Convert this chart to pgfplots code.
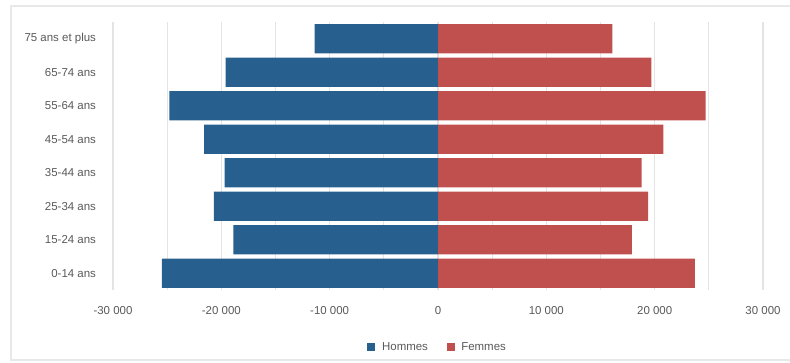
\documentclass[border=0pt]{standalone}
\usepackage{pgfplots}
\pgfplotsset{compat=1.18}
\usepackage{fontspec}
\setmainfont{Liberation Sans}
\definecolor{hblue}{HTML}{27608F}
\definecolor{fred}{HTML}{C0504D}
\definecolor{txt}{HTML}{595959}
\definecolor{gridc}{HTML}{E4E4E4}
\definecolor{framec}{HTML}{E8E8E8}
\pgfplotstableread{
y hommes femmes
0 -25500 23700
1 -18900 17900
2 -20700 19400
3 -19700 18800
4 -21600 20800
5 -24800 24700
6 -19600 19700
7 -11400 16100
}\pyramid
\begin{document}
\begin{tikzpicture}
\useasboundingbox (0,0) rectangle (592.5pt,271.5pt);
\draw[framec, line width=0.8pt] (8.25pt,1.5pt) rectangle (600pt,267pt);
\begin{axis}[
  at={(84.75pt,54pt)}, anchor=south west,
  scale only axis, width=487.5pt, height=201pt,
  xmin=-30000, xmax=30000, ymin=-0.5, ymax=7.5,
  enlargelimits=false,
  scaled x ticks=false,
  xbar, bar width=0.87, bar shift=0pt,
  axis line style={draw=none}, tick style={draw=none},
  xtick={-30000,-20000,...,30000},
  minor xtick={-25000,-15000,...,25000},
  xticklabels={{-30 000},{-20 000},{-10 000},{0},{10 000},{20 000},{30 000}},
  ytick={0,...,7},
  yticklabels={{0-14 ans},{15-24 ans},{25-34 ans},{35-44 ans},{45-54 ans},{55-64 ans},{65-74 ans},{75 ans et plus}},
  xmajorgrids, xminorgrids,
  major grid style={gridc, line width=0.8pt},
  minor grid style={gridc, line width=0.8pt},
  ymajorgrids=false,
  tick label style={font=\fontsize{8.6}{10}\selectfont, text=txt},
  xticklabel style={yshift=-9pt},
  yticklabel style={xshift=-5pt},
  legend style={at={(0.5,-0.213)}, anchor=center, draw=none, fill=none,
    legend columns=2, font=\fontsize{8.6}{10}\selectfont, text=txt,
    /tikz/every odd column/.append style={column sep=3pt},
    /tikz/every even column/.append style={column sep=12pt}},
  legend image code/.code={\fill[#1] (0pt,-3pt) rectangle (6pt,3pt);},
]
\addplot[fill=hblue, draw=none] table[x=hommes, y=y] {\pyramid};
\addlegendentry{Hommes}
\addplot[fill=fred, draw=none] table[x=femmes, y=y] {\pyramid};
\addlegendentry{Femmes}
\end{axis}
\end{tikzpicture}
\end{document}
